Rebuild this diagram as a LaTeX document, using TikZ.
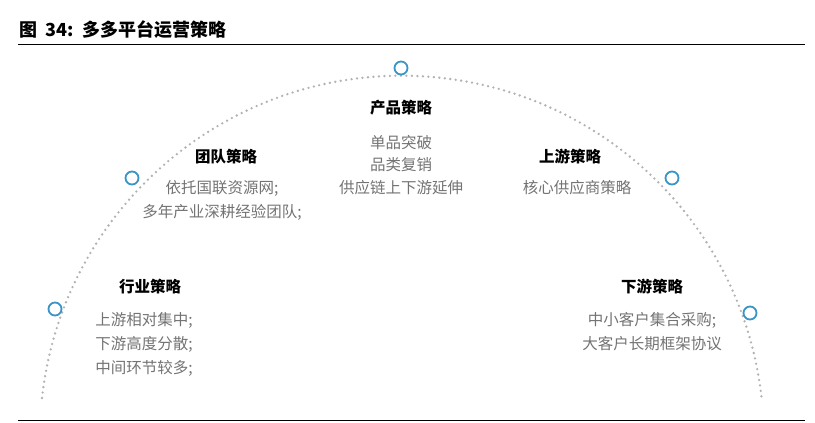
\documentclass[tikz,border=0pt]{standalone}
\usepackage{fontspec}
\setmainfont{Noto Sans CJK SC}
\begin{document}
\begin{tikzpicture}[x=1pt,y=-1pt,
  hd/.style={font=\fontsize{15.5}{17}\selectfont\bfseries, text=black},
  bd/.style={font=\fontsize{15.5}{17}\selectfont, text=black!55},
  dot/.style={circle, draw=blue!35!cyan!55!gray, fill=white, line width=1.8pt, minimum size=13pt, inner sep=0pt}]
\useasboundingbox (0,0) rectangle (815,423);
\node[anchor=west, font=\fontsize{18}{20}\selectfont\bfseries] (title) at (16,30) {图\ \ 34:\ \ 多多平台运营策略};
\draw[line width=1pt] (18,44) -- (805,44);
\draw[line width=1pt] (18,420) -- (805,420);
\draw[black!30, line width=2.6pt, dash pattern=on 0pt off 5.5pt, line cap=round]
  (42,398) arc[start angle=186.3, end angle=353.7, radius=362];
\node[dot] (p1) at (401,68) {};
\node[dot] (p2) at (132,178) {};
\node[dot] (p3) at (672,178) {};
\node[dot] (p4) at (55,309) {};
\node[dot] (p5) at (750,313) {};
\node[hd] (a) at (401,108) {产品策略};
\node[bd] (a1) at (401,143) {单品突破};
\node[bd] (a2) at (401,165) {品类复销};
\node[bd] (a3) at (401,188) {供应链上下游延伸};
\node[hd] (b) at (226,157) {团队策略};
\node[bd] (b1) at (222,188) {依托国联资源网;};
\node[bd] (b2) at (222,212) {多年产业深耕经验团队;};
\node[hd] (c) at (570,157) {上游策略};
\node[bd] (c1) at (577,188) {核心供应商策略};
\node[hd] (d) at (150,287) {行业策略};
\node[bd] (d1) at (144,320) {上游相对集中;};
\node[bd] (d2) at (144,344) {下游高度分散;};
\node[bd] (d3) at (144,368) {中间环节较多;};
\node[hd] (e) at (652,287) {下游策略};
\node[bd] (e1) at (652,320) {中小客户集合采购;};
\node[bd] (e2) at (652,344) {大客户长期框架协议};
\end{tikzpicture}
\end{document}
